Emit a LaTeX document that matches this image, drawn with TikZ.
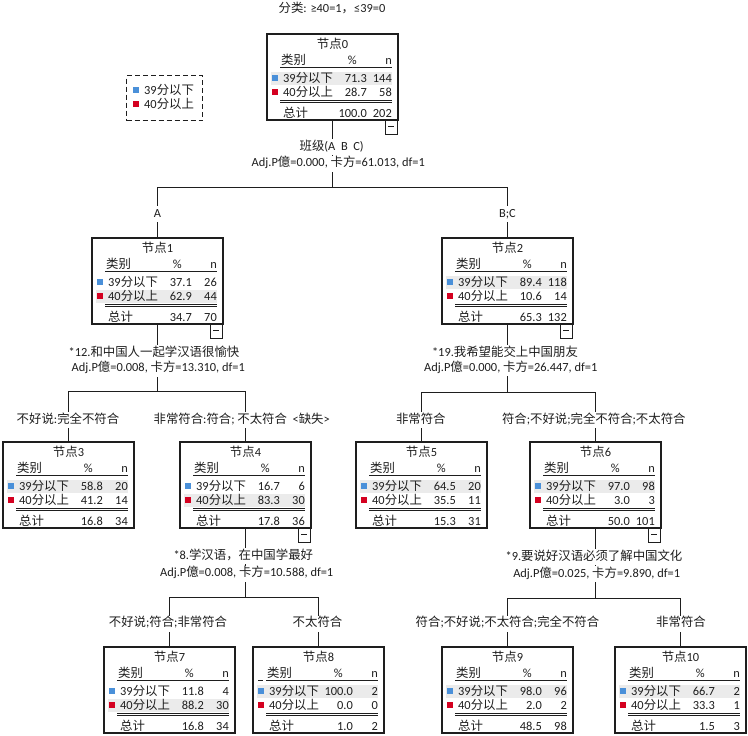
\documentclass[tikz,border=0pt]{standalone}
\usepackage{fontspec}
\setmainfont{Carlito}
\newfontfamily\cjk{Noto Sans CJK SC}
\XeTeXinterchartokenstate=1
\newXeTeXintercharclass\zhcls
\newcount\zhc
\zhc="2E80
\loop\ifnum\zhc<"A000 \XeTeXcharclass\zhc=\zhcls \advance\zhc by 1 \repeat
\zhc="FF00
\loop\ifnum\zhc<"FFF0 \XeTeXcharclass\zhc=\zhcls \advance\zhc by 1 \repeat
\XeTeXinterchartoks 0 \zhcls = {\cjk}
\XeTeXinterchartoks 4095 \zhcls = {\cjk}
\XeTeXinterchartoks \zhcls 0 = {\rmfamily}
\XeTeXinterchartoks \zhcls 4095 = {\rmfamily}
\definecolor{ink}{HTML}{1E1E1E}
\definecolor{sqblue}{HTML}{4A90D9}
\definecolor{sqred}{HTML}{D40020}
\definecolor{rowgrey}{HTML}{EBEBEB}
\newcommand\tnode[9]{%
  \node[tbox,anchor=north west] (#1) at (#2,#3) {};
  \begin{scope}[shift={(#1.north west)}]
    \ifnum#9=1 \def\shy{44}\else\def\shy{58}\fi
    \fill[rowgrey] (3.7,\shy-6.5) rectangle (125,\shy+6.5);
    \node[txt,anchor=base] (#1-t) at (65.5,14.3) {#4};
    \node[txt,anchor=base west] (#1-h) at (14,30.8) {类别};
    \node[txt,anchor=base east] (#1-hp) at (90,30.8) {\%};
    \node[txt,anchor=base east] (#1-hn) at (125,30.8) {n};
    \draw[rule] (13,33) -- (125,33);
    \fill[sqblue] (5,41) rectangle (11,47);
    \node[txt,anchor=base west] (#1-l1) at (16,48.3) {39分以下};
    \node[txt,anchor=base east] (#1-p1) at (100,48.3) {#5};
    \node[txt,anchor=base east] (#1-n1) at (125,48.3) {#6};
    \fill[sqred] (5,55) rectangle (11,61);
    \node[txt,anchor=base west] (#1-l2) at (16,62.3) {40分以上};
    \node[txt,anchor=base east] (#1-p2) at (100,62.3) {#7};
    \node[txt,anchor=base east] (#1-n2) at (125,62.3) {#8};
    \draw[rule] (13,66) -- (125,66);
    \draw[rule] (13,68.4) -- (125,68.4);
  \end{scope}}
\newcommand\ttotal[3]{%
  \begin{scope}[shift={(#1.north west)}]
    \node[txt,anchor=base west] (#1-lt) at (16,83.3) {总计};
    \node[txt,anchor=base east] (#1-pt) at (100,83.3) {#2};
    \node[txt,anchor=base east] (#1-nt) at (125,83.3) {#3};
  \end{scope}}
\newcommand\tminus[1]{%
  \node[minusbox,anchor=north east] (#1-m) at ([xshift=-0.6pt]#1.south east) {};
  \draw[rule] ([xshift=3pt,yshift=1pt]#1-m.west) -- ([xshift=-3pt,yshift=1pt]#1-m.east);}
\begin{document}
\begin{tikzpicture}[x=1pt,y=-1pt,
  font=\fontsize{12.4}{14}\selectfont,
  tbox/.style={draw=ink,fill=white,line width=1.1pt,minimum width=131pt,minimum height=86pt,inner sep=0pt,outer sep=0pt},
  txt/.style={inner sep=0pt,text=ink},
  lab/.style={fill=white,inner xsep=2pt,inner ysep=1.5pt,text height=9.5pt,text depth=3.5pt,anchor=base,text=ink},
  rule/.style={draw=ink,line width=0.9pt},
  conn/.style={draw=ink,line width=1pt},
  minusbox/.style={draw=ink,fill=white,line width=1pt,minimum width=12pt,minimum height=14pt,inner sep=0pt,outer sep=0pt},
  legbox/.style={draw=ink,line width=1.2pt,dash pattern=on 5pt off 3pt,minimum width=76pt,minimum height=45pt,inner sep=0pt}]
\useasboundingbox[fill=white] (0,0) rectangle (748,736);
% title
\node[txt,anchor=base] (title) at (332,12.8) {分类: ≥40=1，≤39=0};
% legend
\node[legbox,anchor=north west] (leg) at (126,75) {};
\fill[sqblue] (133,87) rectangle (139,93);
\node[txt,anchor=base west] (leg1) at (144,94.3) {39分以下};
\fill[sqred] (133,101) rectangle (139,107);
\node[txt,anchor=base west] (leg2) at (144,108.3) {40分以上};
% nodes
\tnode{n0}{267}{34}{节点0}{71.3}{144}{28.7}{58}{1}\ttotal{n0}{100.0}{202}
\tnode{n1}{92}{238}{节点1}{37.1}{26}{62.9}{44}{2}\ttotal{n1}{34.7}{70}
\tnode{n2}{442}{238}{节点2}{89.4}{118}{10.6}{14}{1}\ttotal{n2}{65.3}{132}
\tnode{n3}{3}{442}{节点3}{58.8}{20}{41.2}{14}{1}\ttotal{n3}{16.8}{34}
\tnode{n4}{180}{442}{节点4}{16.7}{6}{83.3}{30}{2}\ttotal{n4}{17.8}{36}
\tnode{n5}{356}{442}{节点5}{64.5}{20}{35.5}{11}{1}\ttotal{n5}{15.3}{31}
\tnode{n6}{530}{442}{节点6}{97.0}{98}{3.0}{3}{1}\ttotal{n6}{50.0}{101}
\tnode{n7}{104}{647}{节点7}{11.8}{4}{88.2}{30}{2}\ttotal{n7}{16.8}{34}
\tnode{n8}{253}{647}{节点8}{100.0}{2}{0.0}{0}{1}\ttotal{n8}{1.0}{2}
\tnode{n9}{442}{647}{节点9}{98.0}{96}{2.0}{2}{1}\ttotal{n9}{48.5}{98}
\tnode{n10}{615}{647}{节点10}{66.7}{2}{33.3}{1}{1}\ttotal{n10}{1.5}{3}
\begin{scope}[shift={(n8.north west)}]
  \draw[rule] (5,33) -- (10,33);
\end{scope}
% bars
\coordinate (b0) at (332.5,187);
\coordinate (b1) at (157.5,391);
\coordinate (b2) at (507.5,392);
\coordinate (b4) at (245.5,597);
\coordinate (b6) at (595.5,598);
\draw[conn] (n0.south) -- (n0.south |- b0);
\draw[conn] (n1.north) -- (n1.north |- b0) -- (n2.north |- b0) -- (n2.north);
\draw[conn] (n1.south) -- (n1.south |- b1);
\draw[conn] (n3.north) -- (n3.north |- b1) -- (n4.north |- b1) -- (n4.north);
\draw[conn] (n2.south) -- (n2.south |- b2);
\draw[conn] (n5.north) -- (n5.north |- b2) -- (n6.north |- b2) -- (n6.north);
\draw[conn] (n4.south) -- (n4.south |- b4);
\draw[conn] (n7.north) -- (n7.north |- b4) -- (n8.north |- b4) -- (n8.north);
\draw[conn] (n6.south) -- (n6.south |- b6);
\draw[conn] (n9.north) -- (n9.north |- b6) -- (n10.north |- b6) -- (n10.north);
% minus boxes
\tminus{n0}\tminus{n1}\tminus{n2}\tminus{n4}\tminus{n6}
% split labels
\node[lab] (s0a) at (331.7,150.3) {班级(A~~B~~C)};
\node[lab] (s0b) at (338.3,166.8) {Adj.P億=0.000, 卡方=61.013, df=1};
\node[lab] (s1a) at (154,356.3) {*12.和中国人一起学汉语很愉快};
\node[lab] (s1b) at (158.3,371.8) {Adj.P億=0.008, 卡方=13.310, df=1};
\node[lab] (s2a) at (505,356) {*19.我希望能交上中国朋友};
\node[lab] (s2b) at (510.8,371) {Adj.P億=0.000, 卡方=26.447, df=1};
\node[lab] (s4a) at (243.3,559.3) {*8.学汉语，在中国学最好};
\node[lab] (s4b) at (246.7,576.6) {Adj.P億=0.008, 卡方=10.588, df=1};
\node[lab] (s6a) at (594,560.3) {*9.要说好汉语必须了解中国文化};
\node[lab] (s6b) at (596.7,577) {Adj.P億=0.025, 卡方=9.890, df=1};
% branch labels
\node[lab] (e1) at (157.5,217.3) {A};
\node[lab] (e2) at (507.5,217.3) {B;C};
\node[lab] (e3) at (68,423.3) {不好说:完全不符合};
\node[lab] (e4) at (241.7,423.3) {非常符合:符合; 不太符合~~<缺失>};
\node[lab] (e5) at (420.8,423.3) {非常符合};
\node[lab] (e6) at (593.8,423.3) {符合;不好说;完全不符合;不太符合};
\node[lab] (e7) at (168,626.8) {不好说;符合;非常符合};
\node[lab] (e8) at (317.5,626.8) {不太符合};
\node[lab] (e9) at (507.5,626.8) {符合;不好说;不太符合;完全不符合};
\node[lab] (e10) at (681,626.8) {非常符合};
\end{tikzpicture}
\end{document}
